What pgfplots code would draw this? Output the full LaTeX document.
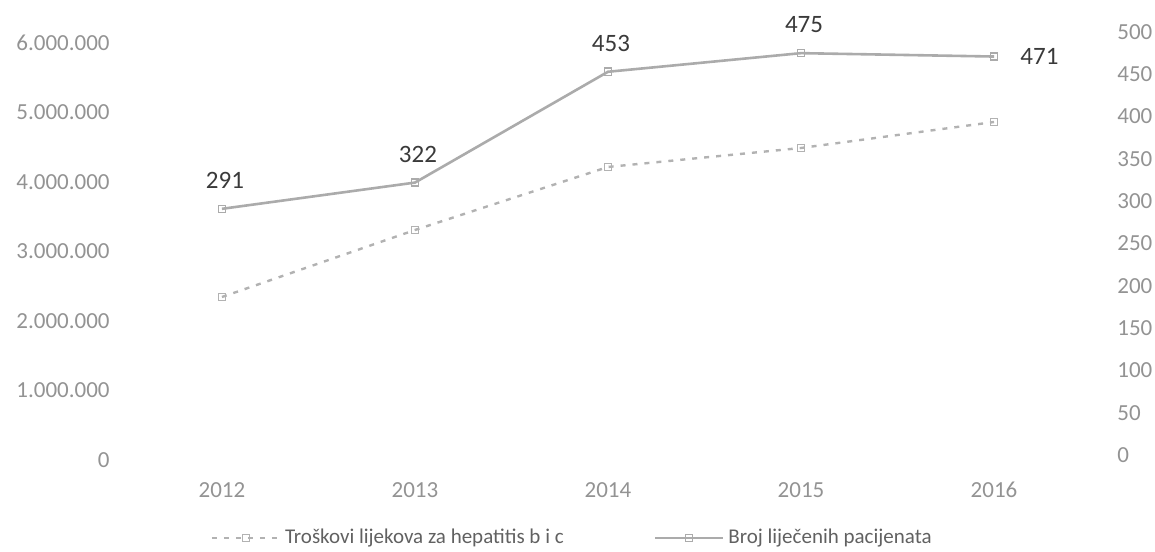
\documentclass[border=0pt]{standalone}
\usepackage{pgfplots}
\usepackage{pgfplotstable}
\pgfplotsset{compat=1.18}
\usepackage{fontspec}
\setmainfont{Carlito}

\definecolor{costc}{HTML}{B2B2B2}
\definecolor{patc}{HTML}{ABABAB}
\definecolor{tickc}{HTML}{939393}
\definecolor{labc}{HTML}{3A3A3A}

\pgfplotstableread{
x cost
0 2345000
1 3309000
2 4216000
3 4489000
4 4863000
}\costdata

\pgfplotstableread{
x pat
0 291
1 322
2 453
3 475
4 471
}\patdata

\begin{document}
\begin{tikzpicture}
\path[use as bounding box] (-57.5pt,-45.5pt) rectangle (520pt,230pt);
\pgfplotsset{
  common/.style={
    width=498pt, height=214pt, scale only axis,
    xmin=-0.554, xmax=4.606,
    axis line style={draw=none},
    tick style={draw=none},
    major tick length=0pt,
    tick label style={font=\fontsize{11.5}{13}\selectfont, text=tickc},
  },
  coststyle/.style={costc, line width=1.2pt, dash pattern=on 2.5pt off 3.5pt,
    mark=square, mark size=1.8pt, mark options={solid, line width=0.7pt}},
  patstyle/.style={patc, line width=1.3pt,
    mark=square, mark size=1.8pt, mark options={solid, line width=0.7pt}},
  labstyle/.style={draw=none, mark=none, forget plot,
    point meta=explicit symbolic, nodes near coords,
    nodes near coords style={inner sep=0pt, font=\fontsize{12.5}{14}\selectfont, text=labc}},
}
\begin{axis}[common,
  axis x line*=bottom, axis y line*=left,
  ymin=0, ymax=6158000,
  scaled y ticks=false,
  xtick={0,1,2,3,4},
  xticklabels={2012,2013,2014,2015,2016},
  xticklabel style={anchor=north, inner sep=0pt, yshift=-11pt},
  ytick={0,1000000,2000000,3000000,4000000,5000000,6000000},
  yticklabels={0,1.000.000,2.000.000,3.000.000,4.000.000,5.000.000,6.000.000},
  yticklabel style={anchor=east, inner sep=0pt, xshift=-2.5pt},
]
\addplot[coststyle] table[x=x, y=cost] {\costdata};
\end{axis}
\begin{axis}[common,
  axis x line=none, axis y line*=right,
  ymin=-5.9, ymax=500,
  ytick={0,50,100,150,200,250,300,350,400,450,500},
  yticklabels={0,50,100,150,200,250,300,350,400,450,500},
  yticklabel style={anchor=west, inner sep=0pt, xshift=3pt},
  legend columns=2,
  legend style={draw=none, fill=none, at={(0.46,0)}, anchor=center, yshift=-39pt,
    font=\fontsize{10.5}{12}\selectfont, text=labc!80,
    /tikz/every even column/.append style={column sep=43pt}},
  legend image code/.code={
    \draw[mark repeat=2, mark phase=2, #1] plot coordinates {(0pt,0pt) (17pt,0pt) (34pt,0pt)};},
]
\addlegendimage{coststyle}
\addlegendentry{Troškovi lijekova za hepatitis b i c}
\addlegendimage{patstyle}
\addlegendentry{Broj liječenih pacijenata}
\addplot[patstyle, forget plot] table[x=x, y=pat] {\patdata};
\addplot[labstyle, nodes near coords style={anchor=south, xshift=1.5pt, yshift=10pt}]
  coordinates {(0,291)[291] (1,322)[322] (2,453)[453] (3,475)[475]};
\addplot[labstyle, nodes near coords style={anchor=west, xshift=13pt}]
  coordinates {(4,471)[471]};
\end{axis}
\end{tikzpicture}
\end{document}
